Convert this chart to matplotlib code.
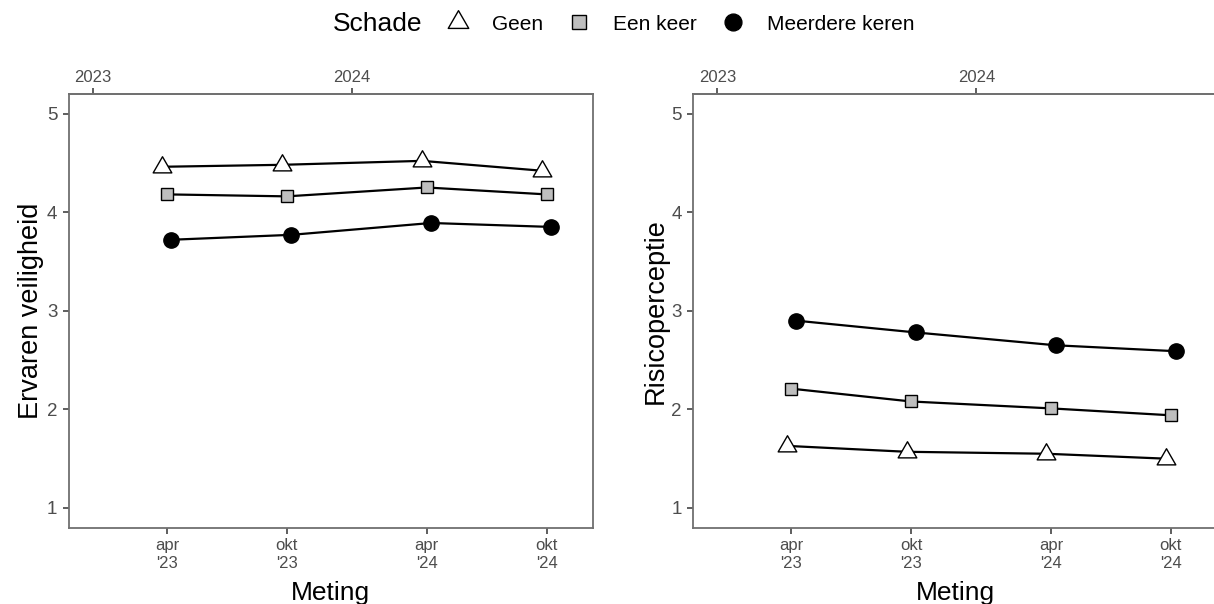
import numpy as np
import matplotlib
matplotlib.use('Agg')
import matplotlib.pyplot as plt
import matplotlib.dates as mdates
from matplotlib.lines import Line2D
from matplotlib.path import Path

plt.rcParams['font.family'] = ['Liberation Sans', 'DejaVu Sans']

# meetmomenten en labels
metingen = ['2023-04-15', '2023-10-01', '2024-04-15', '2024-10-01']
tick_labels = ["apr\n'23", "okt\n'23", "apr\n'24", "okt\n'24"]
jaren = ['2023-01-01', '2024-01-01']
jaar_labels = ['2023', '2024']
groepen = ['Geen', 'Een keer', 'Meerdere keren']

# gemiddelden per groep
veiligheid_geen = [4.46, 4.48, 4.52, 4.42]
veiligheid_een = [4.18, 4.16, 4.25, 4.18]
veiligheid_meer = [3.72, 3.77, 3.89, 3.85]

risico_geen = [1.63, 1.57, 1.55, 1.50]
risico_een = [2.21, 2.08, 2.01, 1.94]
risico_meer = [2.90, 2.78, 2.65, 2.59]

# driehoek met zwaartepunt in het midden (zoals in R)
driehoek = Path([(0, 1), (0.866, -0.5), (-0.866, -0.5), (0, 1)],
                [Path.MOVETO, Path.LINETO, Path.LINETO, Path.CLOSEPOLY])
stijlen = {'Geen': (driehoek, 'white', 15.5),
           'Een keer': ('s', '#BEBEBE', 9),
           'Meerdere keren': ('o', 'black', 11)}
dodge_uren = {'Geen': -156, 'Een keer': 0, 'Meerdere keren': 156}

tekst_grijs = '#4D4D4D'
rand_grijs = '#707070'

datums = np.array(metingen, dtype='datetime64[h]')


def style_axes(ax, ylabel):
    ax.set_xlim(mdates.date2num(np.datetime64('2022-11-28')),
                mdates.date2num(np.datetime64('2024-12-05')))
    ax.set_ylim(0.8, 5.2)
    ax.set_yticks([1, 2, 3, 4, 5])
    ax.set_xticks(mdates.date2num(datums))
    ax.set_xticklabels(tick_labels, linespacing=1.3)
    for s in ax.spines.values():
        s.set_color(rand_grijs)
        s.set_linewidth(1.3)
    ax.tick_params(axis='x', labelsize=12, colors='#333333', labelcolor=tekst_grijs,
                   length=4.3, width=1.1, pad=3)
    ax.tick_params(axis='y', labelsize=13.5, colors='#333333', labelcolor=tekst_grijs,
                   length=4.3, width=1.1, pad=4)
    ax.set_xlabel('Meting', fontsize=19, labelpad=7)
    ax.set_ylabel(ylabel, fontsize=19.5, labelpad=2)

    top = ax.secondary_xaxis('top')
    top.set_xticks(mdates.date2num(np.array(jaren, dtype='datetime64[D]')))
    top.set_xticklabels(jaar_labels)
    top.tick_params(labelsize=12, colors='#333333', labelcolor=tekst_grijs,
                    length=4.3, width=1.1, pad=2)
    top.spines['top'].set_color(rand_grijs)
    top.spines['top'].set_linewidth(1.3)


def teken_panel(ax, reeksen, ylabel):
    for groep, waarden in zip(groepen, reeksen):
        marker, kleur, grootte = stijlen[groep]
        x = mdates.date2num(datums + np.timedelta64(dodge_uren[groep], 'h'))
        ax.plot(x, waarden, color='black', lw=1.6, zorder=2)
        ax.plot(x, waarden, ls='none', marker=marker, ms=grootte,
                mfc=kleur, mec='black', mew=1.0, zorder=3)
    style_axes(ax, ylabel)


fig = plt.figure(figsize=(12.14, 6.04), dpi=100)
ax1 = fig.add_axes([0.0568, 0.1263, 0.4314, 0.7184])
ax2 = fig.add_axes([0.5711, 0.1263, 0.4314, 0.7184])

teken_panel(ax1, [veiligheid_geen, veiligheid_een, veiligheid_meer], 'Ervaren veiligheid')
teken_panel(ax2, [risico_geen, risico_een, risico_meer], 'Risicoperceptie')

# legenda bovenaan
handles = []
for groep in groepen:
    marker, kleur, grootte = stijlen[groep]
    handles.append(Line2D([], [], ls='none', marker=marker, ms=grootte * 1.1,
                          mfc=kleur, mec='black', mew=1.0))
fig.legend(handles, groepen, loc='center left', bbox_to_anchor=(0.3687, 0.960),
           ncol=3, frameon=False, fontsize=15, handlelength=1.0,
           handletextpad=1.13, columnspacing=1.23, borderpad=0, borderaxespad=0)
fig.text(422 / 1214, 0.960, 'Schade', ha='right', va='center', fontsize=19)

fig.savefig('out.png', dpi=100)
